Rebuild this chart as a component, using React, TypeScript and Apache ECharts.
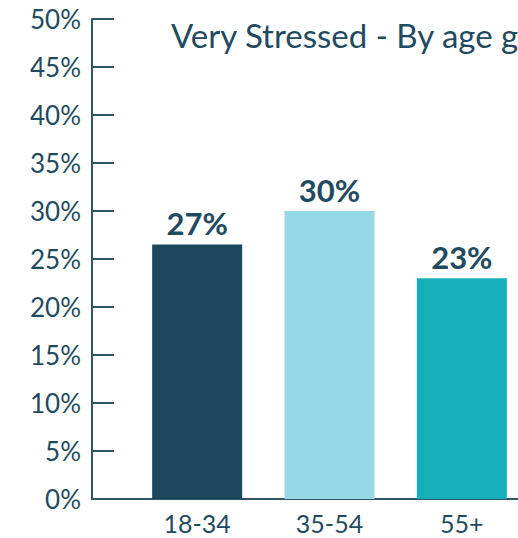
import React, { useEffect, useRef } from "react";
import * as echarts from "echarts";

const categories = ["18-34", "35-54", "55+"];
const values = [26.5, 30, 23];
const barColors = ["#1b485d", "#96d8e6", "#17aebb"];
const titleText = "Very Stressed - By age group";

const TEXT = "#1f4a5f";
const AXIS = "#2f5569";
const FONT = "Lato, 'Open Sans', sans-serif";

export default function App() {
  const ref = useRef<HTMLDivElement>(null);
  useEffect(() => {
    if (!ref.current) return;
    const chart = echarts.init(ref.current, null, { renderer: "svg" });
    chart.setOption({
      animation: false,
      title: {
        text: titleText,
        left: 166,
        top: 13,
        textStyle: { color: TEXT, fontSize: 33, fontWeight: "normal", fontFamily: FONT },
      },
      grid: [
        { left: 131, right: 2, top: 19, bottom: 39 },
        { left: 92, right: 0, top: 19, bottom: 39 },
      ],
      xAxis: [
        {
          type: "category",
          gridIndex: 0,
          data: categories,
          axisLine: { show: false },
          axisTick: { show: false },
          axisLabel: { color: TEXT, fontSize: 25, fontFamily: FONT, margin: 11 },
        },
        {
          type: "value",
          gridIndex: 1,
          min: 0,
          max: 1,
          axisLine: { show: true, lineStyle: { color: AXIS, width: 2 } },
          axisTick: { show: false },
          axisLabel: { show: false },
          splitLine: { show: false },
        },
      ],
      yAxis: [
        {
          type: "value",
          gridIndex: 0,
          min: 0,
          max: 50,
          interval: 5,
          offset: 39,
          axisLine: { show: true, lineStyle: { color: AXIS, width: 2 } },
          axisTick: { show: true, inside: true, length: 22, lineStyle: { color: AXIS, width: 2 } },
          axisLabel: {
            color: TEXT,
            fontSize: 26,
            fontFamily: FONT,
            margin: 11,
            formatter: (v: number) => v + "%",
          },
          splitLine: { show: false },
        },
        {
          type: "value",
          gridIndex: 1,
          min: 0,
          max: 1,
          show: false,
        },
      ],
      series: [
        {
          type: "bar",
          xAxisIndex: 0,
          yAxisIndex: 0,
          barWidth: 90,
          data: values.map((v, i) => ({ value: v, itemStyle: { color: barColors[i] } })),
          label: {
            show: true,
            position: "top",
            distance: 6,
            color: TEXT,
            fontSize: 31,
            fontWeight: "bold",
            fontFamily: FONT,
            formatter: (p: any) => Math.round(p.value) + "%",
          },
        },
      ],
    });
    return () => chart.dispose();
  }, []);
  return (
    <div style={{ position: "absolute", left: 0, top: 0, width: 518, height: 538, overflow: "hidden" }}>
      <div ref={ref} style={{ width: 530, height: 538 }} />
    </div>
  );
}
